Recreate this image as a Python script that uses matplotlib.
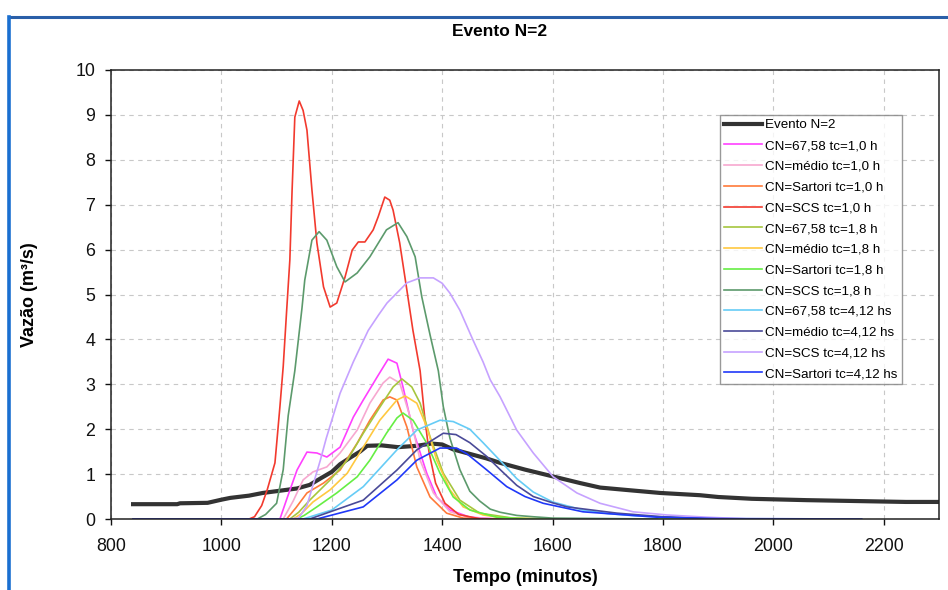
import matplotlib
matplotlib.use("Agg")
import matplotlib.pyplot as plt
from matplotlib.lines import Line2D

plt.rcParams['font.family'] = ['Liberation Sans', 'DejaVu Sans']

# ---------------- data ----------------
title = "Evento N=2"
xlabel = "Tempo (minutos)"
ylabel = "Vazão (m³/s)"
x_ticks = [800, 1000, 1200, 1400, 1600, 1800, 2000, 2200]
y_ticks = list(range(0, 11))

evento_t = [840, 920, 925, 975, 1000, 1016, 1050, 1075, 1100, 1137, 1160, 1179, 1200, 1215, 1235,
            1251, 1264, 1290, 1320, 1354, 1380, 1400, 1420, 1450, 1480, 1505, 1550, 1600, 1650,
            1686, 1740, 1795, 1867, 1900, 1961, 2060, 2240, 2300]
evento_q = [0.33, 0.33, 0.35, 0.36, 0.43, 0.47, 0.52, 0.58, 0.62, 0.68, 0.76, 0.90, 1.05, 1.22, 1.38,
            1.50, 1.63, 1.64, 1.60, 1.63, 1.68, 1.66, 1.55, 1.45, 1.35, 1.25, 1.10, 0.95, 0.80,
            0.70, 0.64, 0.58, 0.53, 0.49, 0.45, 0.42, 0.38, 0.38]

mag_t = [840, 1106, 1120, 1137, 1155, 1173, 1191, 1215, 1239, 1257, 1282, 1302, 1318, 1329, 1347,
         1372, 1390, 1414, 1450, 1500, 1900]
mag_q = [0, 0, 0.5, 1.09, 1.49, 1.47, 1.38, 1.60, 2.27, 2.65, 3.16, 3.56, 3.47, 2.94, 1.98,
         1.02, 0.49, 0.20, 0.04, 0, 0]

pink_t = [840, 1112, 1130, 1148, 1166, 1191, 1215, 1246, 1269, 1293, 1305, 1323, 1342, 1360, 1384,
          1414, 1450, 1500, 1900]
pink_q = [0, 0, 0.4, 0.87, 1.05, 1.16, 1.47, 1.98, 2.58, 3.03, 3.16, 3.03, 2.27, 1.31, 0.58,
          0.16, 0.03, 0, 0]

orange_t = [840, 1118, 1135, 1155, 1185, 1215, 1246, 1269, 1293, 1305, 1318, 1336, 1354, 1378, 1408,
            1438, 1480, 1900]
orange_q = [0, 0, 0.25, 0.58, 0.80, 1.09, 1.69, 2.20, 2.65, 2.72, 2.65, 2.05, 1.16, 0.49, 0.13,
            0.02, 0, 0]

red_t = [840, 1050, 1060, 1073, 1083, 1097, 1101, 1106, 1112, 1118, 1124, 1128, 1133, 1141, 1148,
         1155, 1164, 1173, 1185, 1197, 1209, 1224, 1237, 1248, 1260, 1275, 1284, 1296, 1305, 1311,
         1323, 1336, 1347, 1360, 1368, 1376, 1388, 1405, 1430, 1470, 1900]
red_q = [0, 0, 0.05, 0.30, 0.65, 1.25, 1.80, 2.50, 3.40, 4.60, 5.77, 7.30, 8.95, 9.31, 9.10,
         8.66, 7.33, 6.15, 5.17, 4.72, 4.81, 5.39, 5.99, 6.17, 6.17, 6.44, 6.73, 7.17, 7.10, 6.88,
         6.15, 5.10, 4.20, 3.30, 2.30, 1.50, 0.80, 0.35, 0.10, 0, 0]

yg_t = [840, 1124, 1140, 1160, 1197, 1228, 1257, 1287, 1311, 1327, 1345, 1360, 1378, 1402, 1432,
        1468, 1528, 1600, 1900]
yg_q = [0, 0, 0.15, 0.42, 0.87, 1.31, 1.91, 2.49, 2.94, 3.12, 2.94, 2.58, 1.83, 1.02, 0.42,
        0.13, 0.02, 0, 0]

yel_t = [840, 1130, 1145, 1166, 1197, 1228, 1257, 1287, 1318, 1333, 1354, 1372, 1390, 1414, 1438,
         1474, 1513, 1600, 1900]
yel_q = [0, 0, 0.12, 0.38, 0.65, 1.02, 1.60, 2.20, 2.65, 2.74, 2.58, 2.05, 1.31, 0.65, 0.27,
         0.09, 0.02, 0, 0]

lg_t = [840, 1137, 1150, 1173, 1209, 1246, 1269, 1299, 1318, 1329, 1347, 1372, 1396, 1420, 1450,
        1499, 1560, 1900]
lg_q = [0, 0, 0.08, 0.27, 0.58, 0.94, 1.31, 1.91, 2.25, 2.36, 2.20, 1.69, 1.02, 0.49, 0.20,
        0.04, 0, 0]

dg_t = [840, 1065, 1080, 1100, 1112, 1121, 1133, 1146, 1151, 1164, 1177, 1191, 1209, 1224, 1246,
        1269, 1299, 1320, 1336, 1351, 1363, 1378, 1393, 1402, 1414, 1432, 1450, 1468, 1487, 1505,
        1535, 1565, 1600, 1790]
dg_q = [0, 0, 0.10, 0.35, 1.10, 2.30, 3.30, 4.70, 5.32, 6.21, 6.40, 6.21, 5.62, 5.28, 5.48,
        5.84, 6.44, 6.60, 6.29, 5.84, 4.95, 4.10, 3.30, 2.50, 1.80, 1.10, 0.62, 0.40, 0.22, 0.15,
        0.08, 0.05, 0.02, 0]

lb_t = [840, 1148, 1200, 1257, 1318, 1354, 1396, 1420, 1450, 1474, 1505, 1535, 1565, 1600, 1655,
        1700, 1750, 1850, 1900]
lb_q = [0, 0, 0.20, 0.72, 1.54, 1.98, 2.20, 2.17, 2.00, 1.70, 1.30, 0.90, 0.60, 0.38, 0.20,
        0.12, 0.07, 0.02, 0]

navy_t = [840, 1160, 1257, 1318, 1354, 1402, 1425, 1450, 1480, 1505, 1535, 1565, 1600, 1626, 1717,
          1800, 1900]
navy_q = [0, 0, 0.42, 1.09, 1.54, 1.91, 1.88, 1.70, 1.40, 1.10, 0.75, 0.50, 0.36, 0.27, 0.13,
          0.05, 0.01]

lav_t = [840, 1120, 1140, 1155, 1179, 1190, 1215, 1239, 1266, 1285, 1300, 1336, 1360, 1384, 1400,
         1414, 1432, 1456, 1474, 1487, 1505, 1535, 1565, 1601, 1644, 1686, 1746, 1807, 1880, 1958]
lav_q = [0, 0, 0.02, 0.30, 1.30, 1.80, 2.80, 3.50, 4.20, 4.55, 4.81, 5.26, 5.37, 5.37, 5.25,
         5.03, 4.65, 3.98, 3.50, 3.10, 2.72, 1.98, 1.47, 0.94, 0.58, 0.35, 0.16, 0.09, 0.04, 0]

blue_t = [840, 1173, 1257, 1318, 1354, 1396, 1426, 1445, 1480, 1517, 1550, 1583, 1655, 1789, 1900,
          2160]
blue_q = [0, 0, 0.27, 0.87, 1.31, 1.58, 1.58, 1.45, 1.10, 0.72, 0.50, 0.35, 0.16, 0.04, 0.01, 0]

series = [
    ("Evento N=2", evento_t, evento_q, "#333333", 3.0),
    ("CN=67,58 tc=1,0 h", mag_t, mag_q, "#ff40ff", 1.2),
    ("CN=médio tc=1,0 h", pink_t, pink_q, "#f7a8d0", 1.2),
    ("CN=Sartori tc=1,0 h", orange_t, orange_q, "#ff7a3a", 1.2),
    ("CN=SCS tc=1,0 h", red_t, red_q, "#f23a2e", 1.2),
    ("CN=67,58 tc=1,8 h", yg_t, yg_q, "#a6c63e", 1.2),
    ("CN=médio tc=1,8 h", yel_t, yel_q, "#ffc840", 1.2),
    ("CN=Sartori tc=1,8 h", lg_t, lg_q, "#66ee44", 1.2),
    ("CN=SCS tc=1,8 h", dg_t, dg_q, "#5c9a6c", 1.2),
    ("CN=67,58 tc=4,12 hs", lb_t, lb_q, "#66ccf6", 1.2),
    ("CN=médio tc=4,12 hs", navy_t, navy_q, "#4a4a98", 1.2),
    ("CN=SCS tc=4,12 hs", lav_t, lav_q, "#c6a2ff", 1.2),
    ("CN=Sartori tc=4,12 hs", blue_t, blue_q, "#2038f8", 1.2),
]

# ---------------- figure ----------------
W, H = 948, 590
fig = plt.figure(figsize=(W / 100, H / 100), dpi=100)
fig.patch.set_facecolor("white")

# blue outer frame (top and left)
fig.add_artist(Line2D([9 / W, 1.0], [1 - 17 / H, 1 - 17 / H], transform=fig.transFigure,
                      color="#2a5fa8", lw=2.2))
fig.add_artist(Line2D([9 / W, 9 / W], [0, 1 - 17 / H], transform=fig.transFigure,
                      color="#1a6fd0", lw=2.6))

ax = fig.add_axes([111 / W, 1 - 519 / H, (939 - 111) / W, (519 - 70) / H])

for i, (lab, t, q, c, lw) in enumerate(series):
    ax.plot(t, q, color=c, lw=lw, label=lab, zorder=2 + i * 0.01,
            solid_joinstyle="round")

ax.set_xlim(800, 2300)
ax.set_ylim(0, 10)
ax.set_xticks(x_ticks)
ax.set_yticks(y_ticks)
ax.grid(True, color="#c8c8c8", lw=0.8, linestyle=(0, (4, 4)))
ax.set_axisbelow(True)
for s in ax.spines.values():
    s.set_color("#222222")
    s.set_linewidth(1.1)
ax.tick_params(axis="x", direction="out", length=4.5, width=1, pad=9, labelsize=12.8, colors="#111111")
ax.tick_params(axis="y", direction="out", length=4.5, width=1, pad=7, labelsize=12.8, colors="#111111")

leg = ax.legend(loc="upper left", bbox_to_anchor=((720 - 111) / 828, (519 - 115) / 449),
                borderaxespad=0, frameon=True, fancybox=False, fontsize=9.6,
                handlelength=2.85, handletextpad=0.25, labelspacing=0.63, borderpad=0.3)
leg.get_frame().set_edgecolor("#808080")
leg.get_frame().set_linewidth(1.0)

fig.text(500 / W, 1 - 32 / H, title, ha="center", va="center", fontsize=12.5, fontweight="bold")
fig.text(525 / W, 1 - 578 / H, xlabel, ha="center", va="center", fontsize=13, fontweight="bold")
fig.text(30 / W, 1 - 295 / H, ylabel, ha="center", va="center", rotation=90, fontsize=13,
         fontweight="bold")

fig.savefig("out.png", dpi=100)
